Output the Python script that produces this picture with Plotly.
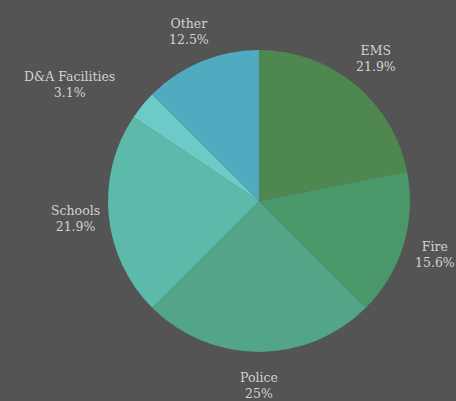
import math
import plotly.graph_objects as go

# ---- data ----
categories = ["EMS", "Fire", "Police", "Schools", "D&A Facilities", "Other"]
shares = [21.9, 15.6, 25, 21.9, 3.1, 12.5]

# ---- style / layout ----
colors = ["#4f8751", "#4a9769", "#53a588", "#5db9a9", "#6ccbc7", "#51abc0"]
label_anchor = ["center", "center", "center", "center", "right", "center"]
W, H = 456, 401
CX, CY, R = 259, 201, 151       # pie centre and radius in pixels
LABEL_R = 184                   # radial distance of labels
BG = "#545454"
TXT = "#d2d2d2"
FONT = "DejaVu Serif"

fig = go.Figure(go.Pie(
    labels=categories,
    values=shares,
    sort=False,
    direction="clockwise",
    rotation=0,
    marker=dict(colors=colors, line=dict(width=0)),
    textinfo="none",
    showlegend=False,
    domain=dict(x=[(CX - R) / W, (CX + R) / W],
                y=[1 - (CY + R) / H, 1 - (CY - R) / H]),
))

total = sum(shares)
cum = 0
annotations = []
for cat, v, anc in zip(categories, shares, label_anchor):
    mid = (cum + v / 2) / total * 360
    cum += v
    th = math.radians(mid)
    px = CX + LABEL_R * math.sin(th)
    py = CY - LABEL_R * math.cos(th)
    annotations.append(dict(
        x=px / W, y=1 - py / H, xref="paper", yref="paper",
        text=f"{cat}<br>{v:g}%", showarrow=False,
        xanchor=anc, yanchor="middle", align="center",
        font=dict(family=FONT, size=12.5, color=TXT),
    ))

fig.update_layout(
    width=W, height=H,
    margin=dict(l=0, r=0, t=0, b=0),
    paper_bgcolor=BG, plot_bgcolor=BG,
    annotations=annotations,
)

fig.write_html("out.html", config={"displayModeBar": False})

# remove the browser's default page margin so the figure fills the window
with open("out.html", encoding="utf-8") as f:
    html = f.read()
html = html.replace("<body>", f'<body style="margin:0;background:{BG};overflow:hidden">', 1)
with open("out.html", "w", encoding="utf-8") as f:
    f.write(html)
